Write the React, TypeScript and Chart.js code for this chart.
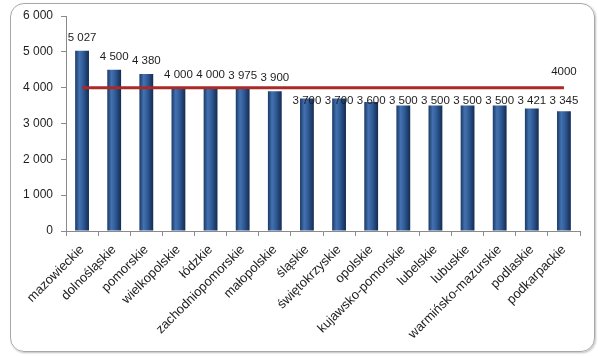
import React, { useEffect, useRef } from "react";
import { Chart, registerables } from "chart.js";

Chart.register(...registerables);

const categories = [
  "mazowieckie",
  "dolnośląskie",
  "pomorskie",
  "wielkopolskie",
  "łódzkie",
  "zachodniopomorskie",
  "małopolskie",
  "śląskie",
  "świętokrzyskie",
  "opolskie",
  "kujawsko-pomorskie",
  "lubelskie",
  "lubuskie",
  "warmińsko-mazurskie",
  "podlaskie",
  "podkarpackie",
];

const values = [5027, 4500, 4380, 4000, 4000, 3975, 3900, 3700, 3700, 3600, 3500, 3500, 3500, 3500, 3421, 3345];

const lineValues = [4000, 4000, 4000, 4000, 4000, 4000, 4000, 4000, 4000, 4000, 4000, 4000, 4000, 4000, 4000, 4000];

const lineLabel = "4000";

const yTicks = [0, 1000, 2000, 3000, 4000, 5000, 6000];

const fmt = (n: number) => String(n).replace(/\B(?=(\d{3})+(?!\d))/g, " ");

const FONT = "'Liberation Sans', Arial, sans-serif";
const BAR_PCT = 0.43;

const barFill = (c: any) => {
  const chart = c.chart;
  const xs = chart.scales?.x;
  const area = chart.chartArea;
  if (!xs || !area) return "#2c5592";
  const cx = xs.getPixelForValue(c.dataIndex);
  const w = (area.right - area.left) / categories.length * BAR_PCT;
  if (!isFinite(cx) || !isFinite(w)) return "#2c5592";
  const g = chart.ctx.createLinearGradient(cx - w / 2, 0, cx + w / 2, 0);
  g.addColorStop(0, "#1a3868");
  g.addColorStop(0.3, "#4372ae");
  g.addColorStop(0.55, "#325e9b");
  g.addColorStop(1, "#132b52");
  return g;
};

const labelsPlugin = {
  id: "labelsPlugin",
  afterDatasetsDraw(chart: any) {
    const ctx = chart.ctx;
    const y = chart.scales.y;
    const barMeta = chart.getDatasetMeta(1);
    const lineMeta = chart.getDatasetMeta(0);
    ctx.save();
    ctx.font = `11.5px ${FONT}`;
    ctx.fillStyle = "#1e1e1e";
    ctx.textAlign = "center";
    ctx.textBaseline = "middle";
    barMeta.data.forEach((el: any, i: number) => {
      const v = values[i];
      const lineY = y.getPixelForValue(lineValues[i]);
      let ly = el.y - 13;
      if (ly > lineY - 8) ly = lineY + 13;
      ctx.fillText(fmt(v), el.x, ly);
    });
    const last = lineMeta.data[lineMeta.data.length - 1];
    ctx.fillText(lineLabel, last.x, last.y - 16);
    ctx.restore();
  },
};

export default function App() {
  const ref = useRef<HTMLCanvasElement | null>(null);
  useEffect(() => {
    if (!ref.current) return;
    const chart = new Chart(ref.current, {
      type: "bar",
      data: {
        labels: categories,
        datasets: [
          {
            type: "line",
            data: lineValues,
            borderColor: "#a92a26",
            borderWidth: 3,
            pointRadius: 0,
            order: 0,
          } as any,
          {
            type: "bar",
            data: values,
            backgroundColor: barFill,
            barPercentage: BAR_PCT,
            categoryPercentage: 1,
            order: 1,
          },
        ],
      },
      options: {
        animation: false,
        responsive: false,
        maintainAspectRatio: false,
        layout: { padding: { left: 0, top: 16, right: 18, bottom: 0 } },
        plugins: { legend: { display: false }, tooltip: { enabled: false } },
        scales: {
          x: {
            grid: { offset: true, drawOnChartArea: false, drawTicks: true, tickLength: 5, color: "#8a8a8a" },
            border: { color: "#8a8a8a" },
            ticks: {
              minRotation: 45,
              maxRotation: 45,
              autoSkip: false,
              color: "#1e1e1e",
              padding: 6,
              font: { family: FONT, size: 13 },
            },
            afterFit: (s: any) => {
              s.height = 126;
            },
          },
          y: {
            min: 0,
            max: 6000,
            afterBuildTicks: (s: any) => {
              s.ticks = yTicks.map((v) => ({ value: v }));
            },
            grid: { drawOnChartArea: false, drawTicks: true, tickLength: 5, color: "#8a8a8a" },
            border: { color: "#8a8a8a" },
            ticks: {
              color: "#1e1e1e",
              padding: 8,
              font: { family: FONT, size: 12 },
              callback: (v: any) => fmt(Number(v)),
            },
            afterFit: (s: any) => {
              s.width = 66;
            },
          },
        },
      },
      plugins: [labelsPlugin],
    });
    return () => chart.destroy();
  }, []);

  return (
    <div style={{ position: "absolute", left: 0, top: 0, width: 598, height: 357, background: "#fff" }}>
      <div
        style={{
          position: "absolute",
          left: 10,
          top: 3,
          width: 583,
          height: 347,
          border: "1px solid #a8a8a8",
          borderRadius: 14,
          boxShadow: "1px 1px 2px rgba(0,0,0,0.25)",
        }}
      />
      <canvas ref={ref} width={598} height={357} style={{ position: "absolute", left: 0, top: 0 }} />
    </div>
  );
}
